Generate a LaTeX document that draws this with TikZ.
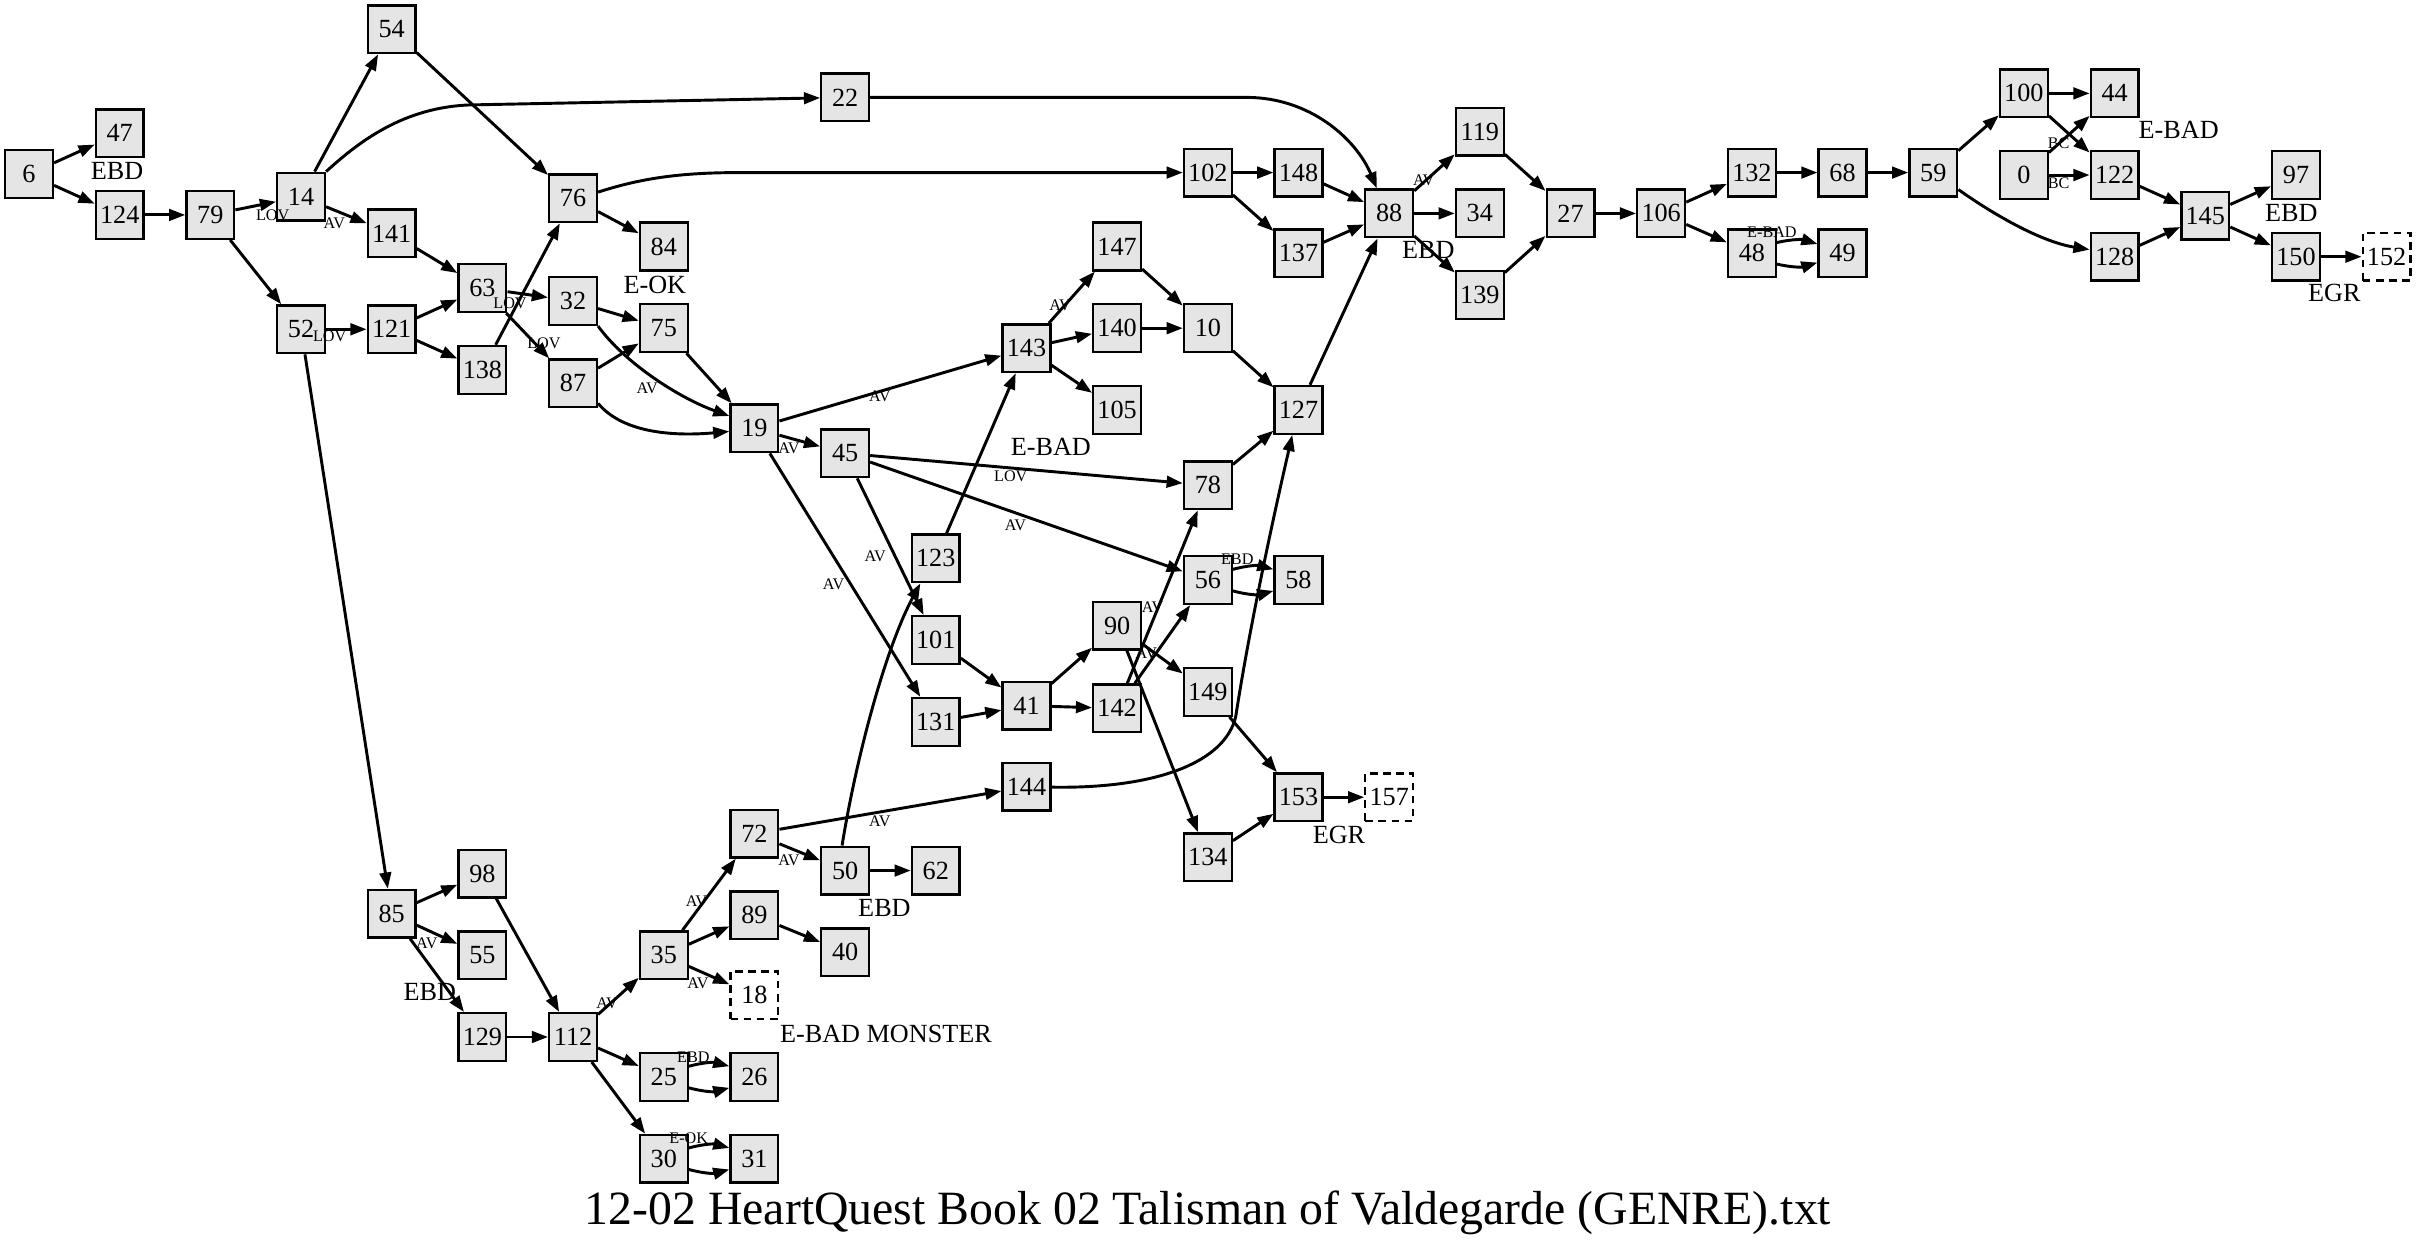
\documentclass[tikz,border=0pt]{standalone}
\usepackage{fontspec}
\setmainfont{Liberation Serif}
\usetikzlibrary{arrows.meta}
\definecolor{pagegray}{HTML}{E5E5E5}

\begin{document}
\begin{tikzpicture}[x=1pt,y=-1pt,
  page/.style={draw,line width=1.5pt,fill=pagegray,minimum width=31pt,minimum height=31pt,inner sep=0pt,font=\fontsize{17}{17}\selectfont},
  endpage/.style={page,fill=white,dash pattern=on 5pt off 3.5pt},
  link/.style={line width=1.9pt,-{Triangle[length=10.5pt,width=7.5pt]}},
  tag/.style={inner sep=0pt,font=\fontsize{10.5}{10.5}\selectfont},
  note/.style={inner sep=0pt,font=\fontsize{17}{17}\selectfont}]
  \useasboundingbox (0,0) rectangle (1568,809);

  % pages, column by column
  \node[page] (n6) at (18.8,113) {6};
  \node[page] (n47) at (77.7,86.5) {47};
  \node[page] (n124) at (77.7,139.5) {124};
  \node[page] (n79) at (136.5,139.5) {79};
  \node[page] (n14) at (195.4,127.6) {14};
  \node[page] (n52) at (195.4,213.7) {52};
  \node[page] (n54) at (254.2,19) {54};
  \node[page] (n141) at (254.2,151.5) {141};
  \node[page] (n121) at (254.2,213.7) {121};
  \node[page] (n85) at (254.2,593) {85};
  \node[page] (n63) at (313.1,187) {63};
  \node[page] (n138) at (313.1,240) {138};
  \node[page] (n98) at (313.1,567) {98};
  \node[page] (n55) at (313.1,620) {55};
  \node[page] (n129) at (313.1,673) {129};
  \node[page] (n76) at (371.9,128.7) {76};
  \node[page] (n32) at (371.9,195.4) {32};
  \node[page] (n87) at (371.9,248.8) {87};
  \node[page] (n112) at (371.9,673) {112};
  \node[page] (n84) at (430.8,160) {84};
  \node[page] (n75) at (430.8,213) {75};
  \node[page] (n35) at (430.8,620) {35};
  \node[page] (n25) at (430.8,699) {25};
  \node[page] (n30) at (430.8,752) {30};
  \node[page] (n19) at (489.6,278) {19};
  \node[page] (n72) at (489.6,541) {72};
  \node[page] (n89) at (489.6,594) {89};
  \node[endpage] (n18) at (489.6,646) {18};
  \node[page] (n26) at (489.6,699) {26};
  \node[page] (n31) at (489.6,752) {31};
  \node[page] (n22) at (548.5,63.2) {22};
  \node[page] (n45) at (548.5,294.2) {45};
  \node[page] (n50) at (548.5,565) {50};
  \node[page] (n40) at (548.5,618) {40};
  \node[page] (n123) at (607.3,362.4) {123};
  \node[page] (n101) at (607.3,415.4) {101};
  \node[page] (n131) at (607.3,468.5) {131};
  \node[page] (n62) at (607.3,565) {62};
  \node[page] (n143) at (666.2,226) {143};
  \node[page] (n41) at (666.2,458) {41};
  \node[page] (n144) at (666.2,510.6) {144};
  \node[page] (n147) at (725,160) {147};
  \node[page] (n140) at (725,213) {140};
  \node[page] (n105) at (725,266) {105};
  \node[page] (n90) at (725,406) {90};
  \node[page] (n142) at (725,459.7) {142};
  \node[page] (n102) at (783.9,112) {102};
  \node[page] (n10) at (783.9,213) {10};
  \node[page] (n78) at (783.9,315) {78};
  \node[page] (n56) at (783.9,376.5) {56};
  \node[page] (n149) at (783.9,449) {149};
  \node[page] (n134) at (783.9,556.4) {134};
  \node[page] (n148) at (842.7,112) {148};
  \node[page] (n137) at (842.7,164.4) {137};
  \node[page] (n127) at (842.7,266) {127};
  \node[page] (n58) at (842.7,376.5) {58};
  \node[page] (n153) at (842.7,517.4) {153};
  \node[page] (n88) at (901.6,138.5) {88};
  \node[endpage] (n157) at (901.6,517.4) {157};
  \node[page] (n119) at (960.4,85.5) {119};
  \node[page] (n34) at (960.4,138.5) {34};
  \node[page] (n139) at (960.4,191.5) {139};
  \node[page] (n27) at (1019.3,138.5) {27};
  \node[page] (n106) at (1078.1,138.5) {106};
  \node[page] (n132) at (1137,112) {132};
  \node[page] (n48) at (1137,164.4) {48};
  \node[page] (n68) at (1195.8,112) {68};
  \node[page] (n49) at (1195.8,164.4) {49};
  \node[page] (n59) at (1254.7,112) {59};
  \node[page] (n100) at (1313.5,60.6) {100};
  \node[page] (n0) at (1313.5,113.6) {0};
  \node[page] (n44) at (1372.4,60.6) {44};
  \node[page] (n122) at (1372.4,113.6) {122};
  \node[page] (n128) at (1372.4,166.6) {128};
  \node[page] (n145) at (1431.2,140) {145};
  \node[page] (n97) at (1490.1,113.6) {97};
  \node[page] (n150) at (1490.1,166.6) {150};
  \node[endpage] (n152) at (1548.9,166.6) {152};

  % endings under the pages
  \node[note] (x47) at (76,111) {EBD};
  \node[note] (x84) at (425,185) {E-OK};
  \node[note] (x88) at (927,162) {EBD};
  \node[note] (x105) at (682,290) {E-BAD};
  \node[note] (x44) at (1414,84) {E-BAD};
  \node[note] (x97) at (1487,138) {EBD};
  \node[note] (x150) at (1515,190) {EGR};
  \node[note] (x153) at (869,542) {EGR};
  \node[note] (x50) at (574,589) {EBD};
  \node[note] (x18) at (575,671) {E-BAD MONSTER};
  \node[note] (x85) at (279,644) {EBD};

  % choices
  \draw[link] (n6) -- (n47);
  \draw[link] (n6) -- (n124);
  \draw[link] (n124) -- (n79);
  \draw[link] (n79) -- (n14);
  \draw[link] (n79) -- (n52);
  \draw[link] (n14) -- (n54);
  \draw[link] (n14.north east) .. controls (235,90) and (265,68) .. (310,68) -- (n22);
  \draw[link] (n14) -- (n141);
  \draw[link] (n54) -- (n76);
  \draw[link] (n141) -- (n63);
  \draw[link] (n52) -- (n121);
  \draw[link] (n52) -- (n85);
  \draw[link] (n121) -- (n63);
  \draw[link] (n121) -- (n138);
  \draw[link] (n138) -- (n76);
  \draw[link] (n63) -- (n32);
  \draw[link] (n63) -- (n87);
  \draw[link] ([yshift=4pt]n76.east) .. controls (415,116) and (440,112) .. (480,112) -- (n102);
  \draw[link] (n76) -- (n84);
  \draw[link] (n32) -- (n75);
  \draw[link] (n32.south east) .. controls (405,235) and (440,258) .. ([yshift=8pt]n19.west);
  \draw[link] (n87) -- (n75);
  \draw[link] ([yshift=-13pt]n87.east) .. controls (405,282) and (440,283) .. ([yshift=-2pt]n19.west);
  \draw[link] (n75) -- (n19);
  \draw[link] (n22) -- (809,63.2) .. controls (850,63.2) and (880,90) .. ([xshift=-8pt]n88.north);
  \draw[link] (n19) -- (n143);
  \draw[link] (n19) -- (n45);
  \draw[link] (n19) -- (n131);
  \draw[link] (n45) -- (n78);
  \draw[link] (n45) -- (n56);
  \draw[link] (n45) -- (n101);
  \draw[link] (n123) -- (n143);
  \draw[link] (n143) -- (n147);
  \draw[link] (n143) -- (n140);
  \draw[link] (n143) -- (n105);
  \draw[link] (n147) -- (n10);
  \draw[link] (n140) -- (n10);
  \draw[link] (n10) -- (n127);
  \draw[link] (n127) -- (n88);
  \draw[link] (n102) -- (n148);
  \draw[link] (n102) -- (n137);
  \draw[link] (n148) -- (n88);
  \draw[link] (n137) -- (n88);
  \draw[link] (n88) -- (n119);
  \draw[link] (n88) -- (n34);
  \draw[link] (n88) -- (n139);
  \draw[link] (n119) -- (n27);
  \draw[link] (n139) -- (n27);
  \draw[link] (n27) -- (n106);
  \draw[link] (n106) -- (n132);
  \draw[link] (n106) -- (n48);
  \draw[link] (n132) -- (n68);
  \draw[link] ([yshift=7pt]n48.east) to[bend left=15] ([yshift=6pt]n49.west);
  \draw[link] ([yshift=-7pt]n48.east) to[bend right=15] ([yshift=-6pt]n49.west);
  \draw[link] (n68) -- (n59);
  \draw[link] (n59) -- (n100);
  \draw[link] ([yshift=-11pt]n59.east) .. controls (1295,140) and (1325,157) .. ([yshift=4.6pt]n128.west);
  \draw[link] (n100) -- (n44);
  \draw[link] (n100) -- (n122);
  \draw[link] (n0) -- (n44);
  \draw[link] (n0) -- (n122);
  \draw[link] (n122) -- (n145);
  \draw[link] (n128) -- (n145);
  \draw[link] (n145) -- (n97);
  \draw[link] (n145) -- (n150);
  \draw[link] (n150) -- (n152);
  \draw[link] (n78) -- (n127);
  \draw[link] ([yshift=7pt]n56.east) to[bend left=15] ([yshift=7pt]n58.west);
  \draw[link] ([yshift=-7pt]n56.east) to[bend right=15] ([yshift=-7pt]n58.west);
  \draw[link] (n101) -- (n41);
  \draw[link] (n131) -- (n41);
  \draw[link] (n41) -- (n90);
  \draw[link] (n41) -- (n142);
  \draw[link] (n90) -- (n149);
  \draw[link] (n90) -- (n134);
  \draw[link] (n142) -- (n78);
  \draw[link] (n142) -- (n56);
  \draw[link] (n149) -- (n153);
  \draw[link] (n134) -- (n153);
  \draw[link] (n153) -- (n157);
  \draw[link] (n144) .. controls (750,512) and (795,495) .. (802,465) .. controls (812,400) and (830,320) .. ([xshift=-4pt]n127.south);
  \draw[link] (n72) -- (n144);
  \draw[link] (n72) -- (n50);
  \draw[link] ([xshift=-2pt]n50.north) .. controls (556,490) and (575,420) .. ([xshift=-10pt]n123.south);
  \draw[link] (n50) -- (n62);
  \draw[link] (n35) -- (n72);
  \draw[link] (n35) -- (n89);
  \draw[link] (n35) -- (n18);
  \draw[link] (n89) -- (n40);
  \draw[link] (n85) -- (n98);
  \draw[link] (n85) -- (n55);
  \draw[link] (n85) -- (n129);
  \draw[link] (n98) -- (n112);
  \draw[link] (n129) -- (n112);
  \draw[link] (n112) -- (n35);
  \draw[link] (n112) -- (n25);
  \draw[link] (n112) -- (n30);
  \draw[link] ([yshift=7pt]n25.east) to[bend left=15] ([yshift=7pt]n26.west);
  \draw[link] ([yshift=-7pt]n25.east) to[bend right=15] ([yshift=-7pt]n26.west);
  \draw[link] ([yshift=7pt]n30.east) to[bend left=15] ([yshift=7pt]n31.west);
  \draw[link] ([yshift=-7pt]n30.east) to[bend right=15] ([yshift=-7pt]n31.west);

  % small labels on the choices
  \node[tag] (t79) at (177,140) {LOV};
  \node[tag] (t14) at (217,145) {AV};
  \node[tag] (t52) at (214,218) {LOV};
  \node[tag] (t63a) at (331,197) {LOV};
  \node[tag] (t63b) at (353,223) {LOV};
  \node[tag] (t32) at (420,252) {AV};
  \node[tag] (t19a) at (512,291) {AV};
  \node[tag] (t19b) at (571,257) {AV};
  \node[tag] (t19c) at (541,379) {AV};
  \node[tag] (t45a) at (568,361) {AV};
  \node[tag] (t45b) at (656,309) {LOV};
  \node[tag] (t45c) at (659,341) {AV};
  \node[tag] (t143) at (688,198) {AV};
  \node[tag] (t88) at (924,117) {AV};
  \node[tag] (t48) at (1150,151) {E-BAD};
  \node[tag] (t0a) at (1336,93) {BC};
  \node[tag] (t0b) at (1336,119) {BC};
  \node[tag] (t56) at (803,363) {EBD};
  \node[tag] (t142) at (748,394) {AV};
  \node[tag] (t90) at (744,424) {AV};
  \node[tag] (t72a) at (571,533) {AV};
  \node[tag] (t72b) at (512,558) {AV};
  \node[tag] (t35a) at (452,585) {AV};
  \node[tag] (t35b) at (453,638) {AV};
  \node[tag] (t85) at (277,612) {AV};
  \node[tag] (t112) at (394,651) {AV};
  \node[tag] (t25) at (450,686) {EBD};
  \node[tag] (t30) at (447,739) {E-OK};

  \node[font=\fontsize{31}{31}\selectfont,inner sep=0pt] (title) at (784,787) {12-02 HeartQuest Book 02 Talisman of Valdegarde (GENRE).txt};
\end{tikzpicture}
\end{document}
